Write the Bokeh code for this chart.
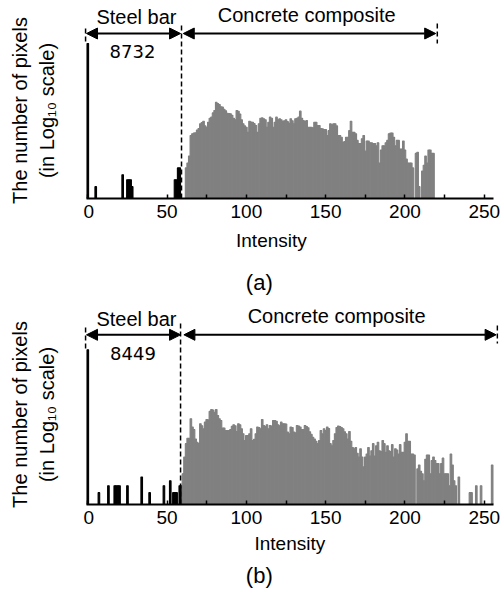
import math
from bokeh.plotting import figure
from bokeh.models import (Range1d, Label, Arrow, NormalHead, FixedTicker,
                          ColumnDataSource, LinearScale)
from bokeh.layouts import column, row
from bokeh.embed import file_html
from bokeh.resources import INLINE
from bokeh.core.properties import value

# ---------------- data ----------------
intensity = list(range(256))

# panel (a): pixel counts per intensity (0 = empty bin)
counts_a = [
    8732, 0, 0, 0, 0, 2, 0, 0, 0, 0, 0, 0, 0, 0, 0, 0,
    0, 0, 0, 0, 0, 0, 4, 0, 0, 3, 3, 3, 2, 0, 0, 0,
    0, 0, 0, 0, 0, 0, 0, 0, 0, 0, 0, 0, 0, 0, 0, 0,
    0, 0, 0, 0, 0, 0, 0, 3, 3, 6, 6, 0, 0, 0, 6, 8,
    12, 40, 44, 46, 47, 55, 60, 79, 85, 92, 70, 65, 87, 110, 117, 150,
    172, 280, 260, 245, 215, 210, 185, 170, 147, 145, 142, 130, 110, 100, 172, 165,
    140, 100, 79, 70, 65, 48, 92, 88, 87, 80, 72, 48, 79, 110, 112, 106,
    100, 65, 87, 117, 110, 65, 87, 117, 100, 106, 100, 92, 95, 100, 90, 82,
    106, 95, 79, 106, 110, 117, 166, 110, 96, 90, 96, 65, 65, 65, 63, 87,
    87, 72, 72, 60, 59, 57, 57, 40, 53, 79, 75, 79, 79, 70, 40, 40,
    36, 27, 28, 36, 36, 53, 92, 48, 48, 44, 30, 25, 25, 33, 40, 16,
    29, 29, 26, 26, 25, 25, 22, 26, 8, 17, 22, 22, 26, 30, 44, 46,
    46, 36, 22, 30, 30, 18, 18, 29, 17, 10, 8, 8, 8, 6, 0, 14,
    15, 2, 0, 5, 7, 12, 8, 17, 17, 14, 14, 0, 0, 0, 0, 0,
    0, 0, 0, 0, 0, 0, 0, 0, 0, 0, 0, 0, 0, 0, 0, 0,
    0, 0, 0, 0, 0, 0, 0, 0, 0, 0, 0, 0, 0, 0, 0, 0,
]

# panel (b)
counts_b = [
    8449, 0, 0, 0, 0, 0, 0, 2, 0, 0, 0, 0, 0, 3, 0, 0,
    0, 3, 3, 3, 3, 0, 0, 0, 0, 3, 0, 0, 0, 0, 0, 0,
    0, 0, 5, 0, 0, 0, 0, 2, 0, 0, 0, 0, 0, 0, 0, 0,
    3, 0, 0, 0, 4, 0, 2, 2, 2, 0, 3, 3, 6, 16, 35, 48,
    48, 150, 92, 80, 46, 38, 35, 112, 100, 83, 123, 144, 140, 230, 257, 250,
    220, 257, 182, 150, 135, 87, 87, 75, 75, 75, 80, 97, 105, 100, 71, 112,
    105, 83, 62, 42, 56, 56, 62, 83, 42, 45, 62, 92, 90, 83, 144, 101,
    95, 105, 83, 101, 98, 135, 135, 130, 105, 100, 123, 112, 112, 110, 69, 62,
    92, 90, 69, 66, 101, 98, 92, 80, 80, 101, 95, 88, 70, 60, 51, 46,
    40, 35, 42, 75, 62, 83, 75, 92, 85, 35, 31, 42, 62, 90, 98, 95,
    90, 83, 70, 62, 46, 71, 40, 28, 26, 28, 20, 16, 26, 16, 9, 16,
    19, 28, 17, 23, 35, 17, 31, 38, 23, 22, 42, 35, 21, 31, 23, 22,
    33, 16, 26, 24, 19, 33, 21, 21, 38, 62, 40, 40, 19, 19, 18, 0,
    8, 10, 7, 6, 4, 14, 18, 18, 6, 13, 16, 13, 11, 11, 6, 11,
    15, 6, 6, 6, 3, 19, 10, 4, 3, 0, 5, 0, 0, 0, 0, 0,
    0, 2, 2, 0, 0, 3, 0, 0, 3, 0, 0, 0, 0, 0, 0, 10,
]

steel_last_bin = 59          # bins up to here belong to the steel bar
x_ticks = [0, 50, 100, 150, 200, 250]
x_minor = [25, 75, 125, 175, 225]
steel_label = "Steel bar"
concrete_label = "Concrete composite"
ylabel_1 = "The number of pixels"
ylabel_2 = "(in Log\u2081\u2080 scale)"
xlabel = "Intensity"

FONT = "Liberation Sans"
STEEL_COLOR = "black"
CONC_COLOR = "#808080"
LEFT_W = 83          # width of the y-label strip
MAIN_W = 420
X0, X1 = -2.71, 259.0


def blank(width, height, xr, yr):
    f = figure(width=width, height=height, output_backend="svg", toolbar_location=None,
               x_range=xr, y_range=yr, x_axis_location=None, y_axis_location=None,
               min_border=0)
    f.outline_line_color = None
    f.grid.visible = False
    f.border_fill_color = "white"
    f.background_fill_color = "white"
    return f


def make_panel(counts, peak_text, tag, panel_h, frame_h, y_top, arrow_y, conc_end,
               pos):
    main_h = frame_h + 30
    p = figure(width=MAIN_W, height=main_h, output_backend="svg", toolbar_location=None,
               x_range=Range1d(X0, X1), y_range=Range1d(1, y_top),
               y_axis_type="log", min_border_left=0, min_border_right=5,
               min_border_top=0, min_border_bottom=30)
    p.outline_line_color = None
    p.grid.visible = False
    p.yaxis.visible = False
    p.background_fill_color = "white"
    p.border_fill_color = "white"
    p.extra_y_ranges = {"px": Range1d(0, frame_h)}
    p.extra_y_scales = {"px": LinearScale()}

    xs, tops, cols = [], [], []
    for i, c in zip(intensity, counts):
        if c > 0:
            xs.append(i)
            tops.append(c)
            cols.append(STEEL_COLOR if i <= steel_last_bin else CONC_COLOR)
    src = ColumnDataSource(dict(x=xs, top=tops, color=cols))
    p.vbar(x="x", top="top", bottom=1, width=1, source=src,
           fill_color="color", line_color="color", line_width=1.1)

    ax = p.xaxis[0]
    ax.ticker = FixedTicker(ticks=x_ticks, minor_ticks=x_minor)
    ax.bounds = (-0.82, 256)
    ax.axis_line_width = 2
    ax.axis_line_color = "black"
    ax.major_tick_in = 4
    ax.major_tick_out = 0
    ax.minor_tick_in = 4
    ax.minor_tick_out = 0
    ax.major_tick_line_width = 1.5
    ax.minor_tick_line_width = 1.5
    ax.major_label_standoff = 6
    ax.major_label_text_font = FONT
    ax.major_label_text_font_size = "19px"
    ax.major_label_text_color = "black"

    # dashed boundary markers
    (lx, ltop, lbot), (mx, mtop), (rx, rtop, rbot) = pos["dash"]
    p.segment(x0=[lx, mx, rx], y0=[ltop, mtop, rtop], x1=[lx, mx, rx], y1=[lbot, 0, rbot],
              y_range_name="px", line_color="black", line_width=1.5, line_dash="5 3")

    # double arrows
    for xa, xb in [(-0.8, 58.5), (conc_end[0], conc_end[1])]:
        p.add_layout(Arrow(x_start=xa, y_start=arrow_y, x_end=xb, y_end=arrow_y,
                           y_range_name="px", line_color="black", line_width=2,
                           start=NormalHead(size=11, fill_color="black", line_color="black", line_width=1),
                           end=NormalHead(size=11, fill_color="black", line_color="black", line_width=1)))

    def lab(text, x, y, size, font=FONT):
        p.add_layout(Label(x=x, y=y, y_range_name="px", text=text, text_font=font,
                           text_font_size=size, text_align="center", text_baseline="middle",
                           text_color="black"))

    sx, sy = pos["steel"]
    lab(steel_label, sx, sy, "20px")
    cx, cy = pos["conc"]
    lab(concrete_label, cx, cy, "20px")
    nx, ny = pos["peak"]
    lab(peak_text, nx, ny, "18px", font="DejaVu Sans")

    # strip below the axis: x label and panel tag
    bot_h = panel_h - main_h
    bot = blank(MAIN_W, bot_h, Range1d(X0, X0 + MAIN_W / (415 / (X1 - X0))), Range1d(0, bot_h))
    ix, iy = pos["xlab"]
    tx, ty = pos["tag"]
    bot.text(x=[ix], y=[bot_h - iy], text=[xlabel], text_font=value(FONT),
             text_font_size=value("19px"), text_align="center", text_baseline="middle",
             text_color="black")
    bot.text(x=[tx], y=[bot_h - ty], text=[tag], text_font=value(FONT),
             text_font_size=value("22px"), text_align="center", text_baseline="middle",
             text_color="black")

    # strip left of the plot: two-line y label
    left = blank(LEFT_W, panel_h, Range1d(0, LEFT_W), Range1d(0, panel_h))
    yc = panel_h - pos["ylab"]
    left.text(x=[19, 46], y=[yc, yc], text=[ylabel_1, ylabel_2], angle=math.pi / 2,
              text_font=value(FONT), text_font_size=value("20px"), text_align="center",
              text_baseline="middle", text_color="black")

    return row(left, column(p, bot, spacing=0), spacing=0)


panel_a = make_panel(counts_a, "8732", "(a)", 300, 198, 108000, 165, (60.2, 219.4),
                     dict(dash=[(-1.4, 170, 155), (59.1, 173), (220.4, 175, 155)],
                          steel=(30.7, 182), conc=(138, 183.5), peak=(28.2, 147),
                          xlab=(117.2, 12), tag=(109.5, 53.7), ylab=110))
panel_b = make_panel(counts_b, "8449", "(b)", 291, 204, 150000, 169.7, (60.6, 257.5),
                     dict(dash=[(-1.4, 177, 154), (58.5, 181), (258.3, 179, 161)],
                          steel=(30.7, 185.7), conc=(156.9, 189), peak=(28.5, 150.7),
                          xlab=(129, 9.3), tag=(109.5, 41), ylab=114))

layout = column(panel_a, panel_b, spacing=0)
open("out.html", "w").write(file_html(layout, INLINE))
